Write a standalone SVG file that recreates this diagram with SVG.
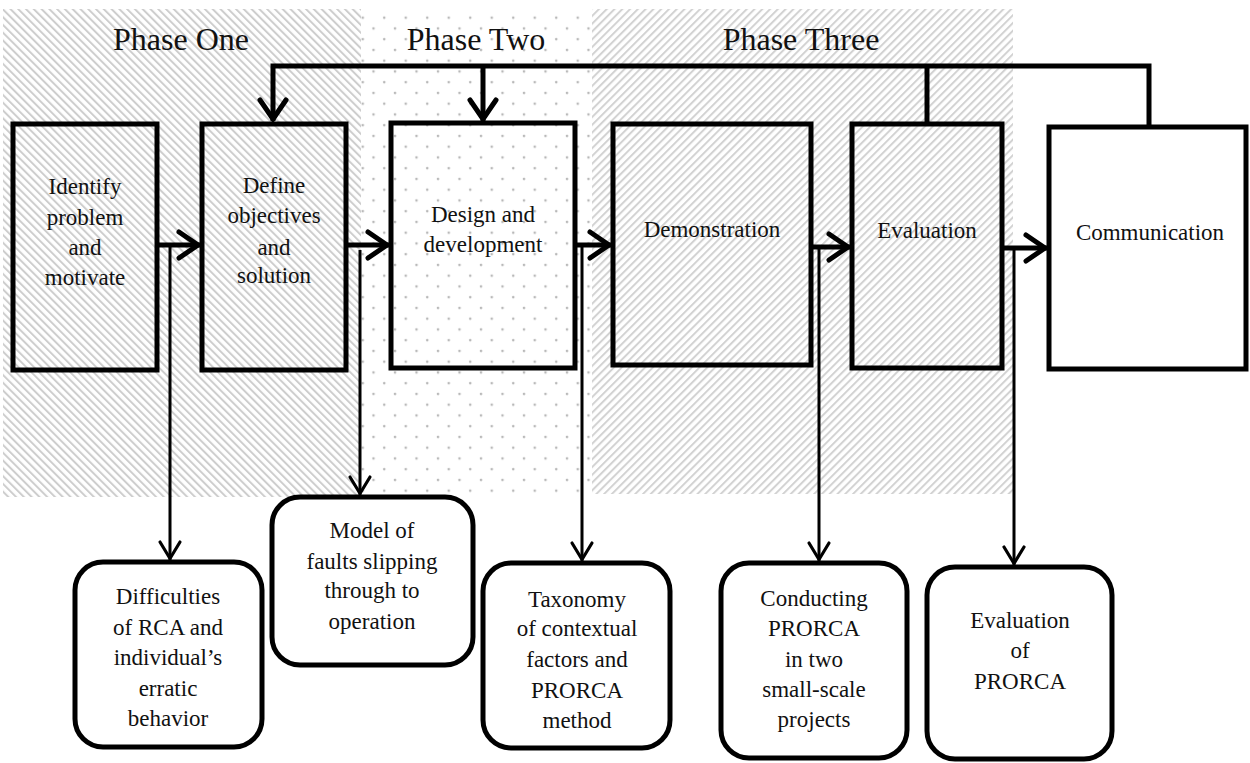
<svg xmlns="http://www.w3.org/2000/svg" width="1250" height="763" viewBox="0 0 1250 763">
<style>
  text { font-family: 'Liberation Serif', 'DejaVu Serif', serif; fill: #111; text-anchor: middle; }
  .phase { font-size: 32px; }
  .lbl { font-size: 23px; }
  .box { fill: none; stroke: #000; stroke-width: 5; }
  .rbox { fill: #fff; stroke: #000; stroke-width: 5; }
  .thick { fill: none; stroke: #000; stroke-width: 5; stroke-linejoin: miter; }
  .thin { fill: none; stroke: #000; stroke-width: 3; }
</style>
<defs>
  <pattern id="hatchL" patternUnits="userSpaceOnUse" width="5.5" height="6" patternTransform="rotate(-45)">
    <rect x="0" y="0" width="2" height="6" fill="#cdcdcd"/>
  </pattern>
  <pattern id="hatchR" patternUnits="userSpaceOnUse" width="5.5" height="6" patternTransform="rotate(45)">
    <rect x="0" y="0" width="2" height="6" fill="#d2d2d2"/>
  </pattern>
  <pattern id="dots" patternUnits="userSpaceOnUse" width="21.5" height="21.5" x="3" y="2">
    <circle cx="5" cy="5" r="1.3" fill="#b8b8b8"/>
    <circle cx="15.75" cy="15.75" r="1.3" fill="#b8b8b8"/>
  </pattern>
  <marker id="ahThick" markerUnits="userSpaceOnUse" viewBox="-26 -16 30 32" markerWidth="30" markerHeight="32" refX="0" refY="0" orient="auto" overflow="visible">
    <path d="M-21,-13 L-2,0 L-21,13" fill="none" stroke="#000" stroke-width="5" stroke-linecap="round" stroke-linejoin="miter"/>
  </marker>
  <marker id="ahThin" markerUnits="userSpaceOnUse" viewBox="-22 -13 26 26" markerWidth="26" markerHeight="26" refX="0" refY="0" orient="auto" overflow="visible">
    <path d="M-18,-10 L-1.5,0 L-18,10" fill="none" stroke="#000" stroke-width="3.2" stroke-linecap="round" stroke-linejoin="miter"/>
  </marker>
</defs>

<g id="phases">
  <rect x="3" y="9" width="358" height="488" fill="url(#hatchL)"/>
  <rect x="361" y="9" width="231" height="486" fill="url(#dots)"/>
  <rect x="592" y="9" width="421" height="485" fill="url(#hatchR)"/>
  <text class="phase" x="181" y="50">Phase One</text>
  <text class="phase" x="476" y="50">Phase Two</text>
  <text class="phase" x="801" y="50">Phase Three</text>
</g>

<g id="connectors">
  <path class="thick" d="M1149,127 V66 H273 V121" marker-end="url(#ahThick)"/>
  <path class="thick" d="M927,124 V66"/>
  <path class="thick" d="M483,66 V121" marker-end="url(#ahThick)"/>
  <path class="thick" d="M157,245 H200" marker-end="url(#ahThick)"/>
  <path class="thick" d="M346,245 H389" marker-end="url(#ahThick)"/>
  <path class="thick" d="M575,245 H611" marker-end="url(#ahThick)"/>
  <path class="thick" d="M811,247 H850" marker-end="url(#ahThick)"/>
  <path class="thick" d="M1002,248 H1047" marker-end="url(#ahThick)"/>
  <path class="thin" d="M170,246 V560" marker-end="url(#ahThin)"/>
  <path class="thin" d="M360,250 V495" marker-end="url(#ahThin)"/>
  <path class="thin" d="M582,247 V561" marker-end="url(#ahThin)"/>
  <path class="thin" d="M819,249 V561" marker-end="url(#ahThin)"/>
  <path class="thin" d="M1014,250 V565" marker-end="url(#ahThin)"/>
</g>

<g id="identify">
  <rect class="box" x="13" y="124" width="144" height="246"/>
  <text class="lbl" x="85" y="194">Identify</text>
  <text class="lbl" x="85" y="225">problem</text>
  <text class="lbl" x="85" y="255">and</text>
  <text class="lbl" x="85" y="285">motivate</text>
</g>
<g id="define">
  <rect class="box" x="202" y="124" width="144" height="246"/>
  <text class="lbl" x="274" y="193">Define</text>
  <text class="lbl" x="274" y="223">objectives</text>
  <text class="lbl" x="274" y="255">and</text>
  <text class="lbl" x="274" y="283">solution</text>
</g>
<g id="design">
  <rect class="box" x="391" y="123" width="184" height="245"/>
  <text class="lbl" x="483" y="222">Design and</text>
  <text class="lbl" x="483" y="252">development</text>
</g>
<g id="demonstration">
  <rect class="box" x="613" y="124" width="198" height="241"/>
  <text class="lbl" x="712" y="237">Demonstration</text>
</g>
<g id="evaluation">
  <rect class="box" x="852" y="124" width="150" height="244"/>
  <text class="lbl" x="927" y="238">Evaluation</text>
</g>
<g id="communication">
  <rect x="1049" y="127" width="197" height="242" fill="#fff" stroke="#000" stroke-width="5"/>
  <text class="lbl" x="1150" y="240">Communication</text>
</g>

<g id="difficulties">
  <rect class="rbox" x="75" y="562" width="187" height="185" rx="28" ry="28"/>
  <text class="lbl" x="168" y="604">Difficulties</text>
  <text class="lbl" x="168" y="635">of RCA and</text>
  <text class="lbl" x="168" y="665">individual’s</text>
  <text class="lbl" x="168" y="696">erratic</text>
  <text class="lbl" x="168" y="726">behavior</text>
</g>
<g id="model">
  <rect class="rbox" x="272" y="497" width="201" height="168" rx="28" ry="28"/>
  <text class="lbl" x="372" y="538">Model of</text>
  <text class="lbl" x="372" y="569">faults slipping</text>
  <text class="lbl" x="372" y="598">through to</text>
  <text class="lbl" x="372" y="629">operation</text>
</g>
<g id="taxonomy">
  <rect class="rbox" x="483" y="563" width="187" height="185" rx="28" ry="28"/>
  <text class="lbl" x="577" y="607">Taxonomy</text>
  <text class="lbl" x="577" y="636">of contextual</text>
  <text class="lbl" x="577" y="667">factors and</text>
  <text class="lbl" x="577" y="698">PRORCA</text>
  <text class="lbl" x="577" y="728">method</text>
</g>
<g id="conducting">
  <rect class="rbox" x="721" y="563" width="186" height="195" rx="28" ry="28"/>
  <text class="lbl" x="814" y="606">Conducting</text>
  <text class="lbl" x="814" y="636">PRORCA</text>
  <text class="lbl" x="814" y="667">in two</text>
  <text class="lbl" x="814" y="697">small-scale</text>
  <text class="lbl" x="814" y="727">projects</text>
</g>
<g id="evalprorca">
  <rect class="rbox" x="927" y="567" width="185" height="192" rx="28" ry="28"/>
  <text class="lbl" x="1020" y="628">Evaluation</text>
  <text class="lbl" x="1020" y="658">of</text>
  <text class="lbl" x="1020" y="689">PRORCA</text>
</g>
</svg>
